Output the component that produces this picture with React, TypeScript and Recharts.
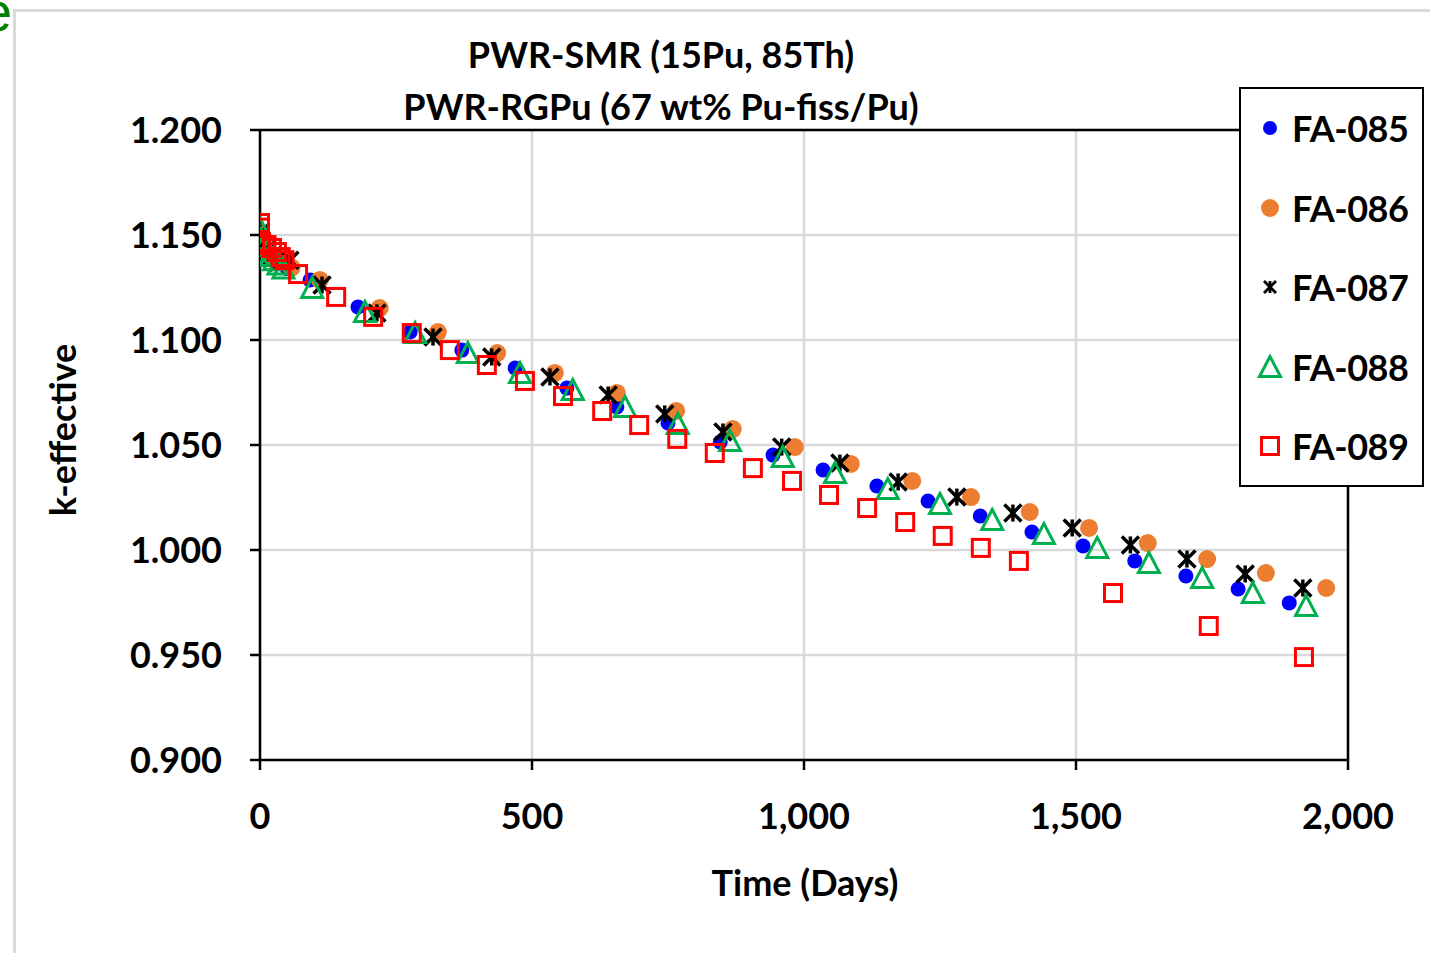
import React from 'react';
import {
  ScatterChart,
  Scatter,
  XAxis,
  YAxis,
  CartesianGrid,
  ReferenceLine,
} from 'recharts';

// ---- Data ----
const fa085Days = [0, 5, 12, 22, 35, 50, 92, 180, 276, 371, 469, 564, 656, 750, 846, 943, 1035, 1134, 1228, 1324, 1419, 1513, 1608, 1702, 1798, 1892];
const fa085K = [1.151, 1.146, 1.143, 1.14, 1.137, 1.134, 1.1286, 1.1157, 1.1038, 1.0952, 1.0867, 1.0771, 1.0681, 1.0605, 1.0514, 1.0452, 1.0381, 1.0305, 1.0233, 1.0162, 1.0086, 1.0019, 0.9948, 0.9876, 0.9814, 0.9748];

const fa086Days = [0, 5, 12, 22, 35, 58, 110, 220, 327, 436, 542, 656, 765, 869, 983, 1086, 1199, 1307, 1415, 1524, 1632, 1741, 1849, 1960];
const fa086K = [1.151, 1.146, 1.143, 1.14, 1.137, 1.1345, 1.1286, 1.1152, 1.1038, 1.0938, 1.0843, 1.0748, 1.0662, 1.0576, 1.049, 1.041, 1.0329, 1.0252, 1.0181, 1.0105, 1.0033, 0.9957, 0.989, 0.9819];

const fa087Days = [0, 5, 12, 22, 35, 55, 114, 215, 318, 426, 533, 640, 744, 851, 959, 1066, 1173, 1281, 1384, 1493, 1600, 1704, 1811, 1917];
const fa087K = [1.151, 1.146, 1.143, 1.14, 1.137, 1.138, 1.1262, 1.1129, 1.1014, 1.0919, 1.0824, 1.0738, 1.0648, 1.0562, 1.049, 1.0414, 1.0324, 1.0252, 1.0176, 1.0105, 1.0024, 0.9957, 0.9886, 0.9819];

const fa088Days = [0, 2, 7, 13, 19, 26, 34, 43, 96, 193, 285, 382, 478, 575, 671, 768, 864, 961, 1057, 1154, 1250, 1346, 1441, 1539, 1634, 1732, 1825, 1923];
const fa088K = [1.153, 1.148, 1.145, 1.142, 1.14, 1.138, 1.136, 1.134, 1.1248, 1.1133, 1.1033, 1.0938, 1.0843, 1.0762, 1.0681, 1.06, 1.0519, 1.0443, 1.0367, 1.029, 1.0219, 1.0143, 1.0076, 1.001, 0.9938, 0.9867, 0.9795, 0.9733];

const fa089Days = [0, 0, 2, 12, 22, 31, 38, 45, 70, 140, 208, 279, 349, 417, 487, 557, 629, 697, 767, 836, 906, 978, 1046, 1116, 1186, 1255, 1325, 1395, 1568, 1744, 1919];
const fa089K = [1.1557, 1.1535, 1.1467, 1.1452, 1.1438, 1.1419, 1.1395, 1.138, 1.1314, 1.1205, 1.111, 1.1033, 1.0952, 1.0881, 1.0805, 1.0733, 1.0662, 1.0595, 1.0529, 1.0462, 1.039, 1.0329, 1.0262, 1.02, 1.0133, 1.0067, 1.001, 0.9948, 0.9795, 0.9638, 0.949];

const seriesNames = ['FA-085', 'FA-086', 'FA-087', 'FA-088', 'FA-089'];
const xTicks = [0, 500, 1000, 1500, 2000];
const yTicks = [0.9, 0.95, 1.0, 1.05, 1.1, 1.15, 1.2];
const titleLines = ['PWR-SMR (15Pu, 85Th)', 'PWR-RGPu (67 wt% Pu-fiss/Pu)'];
const xTitle = 'Time (Days)';
const yTitle = 'k-effective';

const toPoints = (days: number[], k: number[]) => days.map((d, i) => ({ x: d, y: k[i] }));

const FONT = 'Lato, "Open Sans", sans-serif';
const FS = 36;

// ---- Marker shapes ----
const BlueDot = (p: any) => <circle cx={p.cx} cy={p.cy} r={7.5} fill="#0000ff" />;
const OrangeDot = (p: any) => <circle cx={p.cx} cy={p.cy} r={9} fill="#ed7d31" />;
const Star = (p: any) => {
  const { cx, cy } = p;
  const s = 8.5;
  return (
    <g stroke="#000" strokeWidth={3.5}>
      <line x1={cx - s} y1={cy - s} x2={cx + s} y2={cy + s} />
      <line x1={cx - s} y1={cy + s} x2={cx + s} y2={cy - s} />
      <line x1={cx} y1={cy - s} x2={cx} y2={cy + s} />
    </g>
  );
};
const Tri = (p: any) => {
  const { cx, cy } = p;
  return (
    <polygon
      points={`${cx},${cy - 10.5} ${cx - 10.5},${cy + 9.5} ${cx + 10.5},${cy + 9.5}`}
      fill="none"
      stroke="#00b050"
      strokeWidth={3}
    />
  );
};
const Sq = (p: any) => {
  const { cx, cy } = p;
  return <rect x={cx - 8.5} y={cy - 8.5} width={17} height={17} fill="none" stroke="#ff0000" strokeWidth={3} />;
};

const shapes = [BlueDot, OrangeDot, Star, Tri, Sq];
const seriesData = [
  toPoints(fa085Days, fa085K),
  toPoints(fa086Days, fa086K),
  toPoints(fa087Days, fa087K),
  toPoints(fa088Days, fa088K),
  toPoints(fa089Days, fa089K),
];

const LegendMarker = ({ idx }: { idx: number }) => {
  const S = shapes[idx];
  return (
    <svg width={26} height={26} style={{ display: 'block' }}>
      {idx === 2 ? (
        <g stroke="#000" strokeWidth={2.8}>
          <line x1={7} y1={7} x2={19} y2={19} />
          <line x1={7} y1={19} x2={19} y2={7} />
          <line x1={13} y1={7} x2={13} y2={19} />
        </g>
      ) : idx === 0 ? (
        <circle cx={13} cy={13} r={7} fill="#0000ff" />
      ) : (
        <S cx={13} cy={13} />
      )}
    </svg>
  );
};

export default function App() {
  return (
    <div style={{ position: 'absolute', left: 0, top: 0, width: 1430, height: 953, background: '#fff', overflow: 'hidden', fontFamily: FONT }}>
      {/* outer frame */}
      <div style={{ position: 'absolute', left: 13, top: 9, width: 1430, height: 960, borderLeft: '3px solid #d9d9d9', borderTop: '3px solid #d9d9d9' }} />
      <div style={{ position: 'absolute', left: -19, top: -20, fontSize: 56, lineHeight: '64px', color: '#008000', fontFamily: '"Liberation Sans", sans-serif' }}>e</div>

      <ScatterChart width={1430} height={953} margin={{ top: 130, right: 82, left: 0, bottom: 0 }} style={{ position: 'absolute', left: 0, top: 0 }}>
        <CartesianGrid stroke="#d9d9d9" strokeWidth={2.5} />
        <XAxis
          type="number"
          dataKey="x"
          domain={[0, 2000]}
          ticks={xTicks}
          height={193}
          tickSize={10}
          tickMargin={33}
          axisLine={{ stroke: '#000', strokeWidth: 2.5 }}
          tickLine={{ stroke: '#000', strokeWidth: 2.5 }}
          tick={{ fill: '#000', fontSize: FS, fontWeight: 700, fontFamily: FONT }}
          tickFormatter={(v: number) => v.toLocaleString('en-US')}
          allowDataOverflow
        />
        <YAxis
          type="number"
          dataKey="y"
          domain={[0.9, 1.2]}
          ticks={yTicks}
          width={260}
          tickSize={10}
          tickMargin={28}
          axisLine={{ stroke: '#000', strokeWidth: 2.5 }}
          tickLine={{ stroke: '#000', strokeWidth: 2.5 }}
          tick={{ fill: '#000', fontSize: FS, fontWeight: 700, fontFamily: FONT }}
          tickFormatter={(v: number) => v.toFixed(3)}
          allowDataOverflow
        />
        <ReferenceLine y={1.2} stroke="#000" strokeWidth={2.5} />
        <ReferenceLine x={2000} stroke="#000" strokeWidth={2.5} />
        {seriesData.map((d, i) => (
          <Scatter key={seriesNames[i]} name={seriesNames[i]} data={d} shape={shapes[i]} isAnimationActive={false} />
        ))}
      </ScatterChart>

      {/* titles */}
      {titleLines.map((t, i) => (
        <div key={t} style={{ position: 'absolute', left: 261, width: 800, top: 31 + i * 52, textAlign: 'center', fontSize: FS, fontWeight: 700, color: '#000', whiteSpace: 'nowrap', lineHeight: '46px' }}>
          {t}
        </div>
      ))}
      <div style={{ position: 'absolute', left: 505, width: 600, top: 859, textAlign: 'center', fontSize: FS, fontWeight: 700, color: '#000', lineHeight: '46px' }}>{xTitle}</div>
      <div style={{ position: 'absolute', left: 62 - 150, top: 430 - 23, width: 300, textAlign: 'center', fontSize: FS, fontWeight: 700, color: '#000', lineHeight: '46px', transform: 'rotate(-90deg)' }}>{yTitle}</div>

      {/* legend */}
      <div style={{ position: 'absolute', left: 1239, top: 87, width: 181, height: 396, border: '2.5px solid #000', background: '#fff' }}>
        {seriesNames.map((n, i) => (
          <div key={n} style={{ position: 'absolute', left: 16, top: 16 + i * 79.5, display: 'flex', alignItems: 'center', height: 46 }}>
            <LegendMarker idx={i} />
            <span style={{ marginLeft: 9, fontSize: FS, fontWeight: 700, color: '#000', lineHeight: '46px', letterSpacing: -0.5 }}>{n}</span>
          </div>
        ))}
      </div>
    </div>
  );
}
